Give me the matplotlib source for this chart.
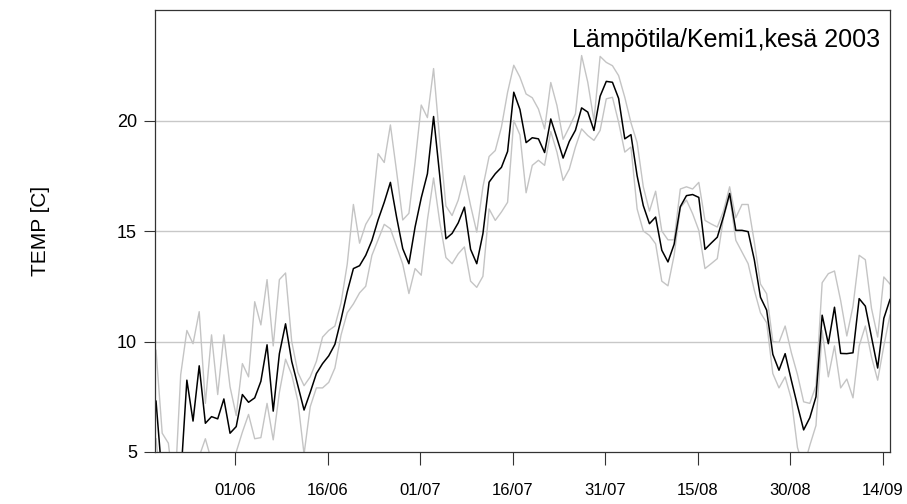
import matplotlib
matplotlib.use("Agg")
import matplotlib.pyplot as plt
import matplotlib.dates as mdates
import pandas as pd

plt.rcParams["font.family"] = ["Liberation Sans", "DejaVu Sans"]

# daily values, Kemi1 summer 2003, first day 19/05
start_day = "2003-05-19 04:00"

temp_mean = [
    7.3, 3.8, 3.5, 3.3, 3.8, 8.25, 6.4, 8.9, 6.3, 6.6,
    6.5, 7.4, 5.85, 6.15, 7.6, 7.25, 7.45, 8.2, 9.85, 6.85,
    9.45, 10.8, 9.1, 8.0, 6.9, 7.7, 8.55, 9.0, 9.35, 9.87,
    11.0, 12.25, 13.3, 13.43, 13.9, 14.57, 15.5, 16.3, 17.2, 15.63,
    14.2, 13.52, 15.18, 16.5, 17.59, 20.18, 17.5, 14.65, 14.89, 15.37,
    16.08, 14.17, 13.52, 14.88, 17.21, 17.59, 17.88, 18.6, 21.28, 20.5,
    19.0, 19.22, 19.17, 18.55, 20.07, 19.2, 18.3, 19.05, 19.56, 20.57,
    20.38, 19.55, 21.1, 21.77, 21.73, 21.0, 19.17, 19.36, 17.5, 16.15,
    15.33, 15.63, 14.13, 13.6, 14.4, 16.1, 16.6, 16.65, 16.52, 14.17,
    14.45, 14.72, 15.65, 16.7, 15.03, 15.03, 14.97, 13.7, 12.0, 11.42,
    9.42, 8.7, 9.45, 8.25, 7.1, 6.0, 6.55, 7.5, 11.19, 9.9,
    11.55, 9.46, 9.45, 9.49, 11.94, 11.6, 10.2, 8.8, 11.05, 11.9,
]

temp_max = [
    9.6, 5.85, 5.4, 3.0, 8.5, 10.5, 9.9, 11.35, 7.2, 10.3,
    7.6, 10.3, 7.95, 6.65, 9.0, 8.4, 11.8, 10.75, 12.8, 9.8,
    12.8, 13.1, 10.0, 8.6, 8.0, 8.4, 9.1, 10.2, 10.5, 10.7,
    11.75, 13.5, 16.2, 14.45, 15.3, 15.77, 18.5, 18.1, 19.8, 17.7,
    15.5, 15.8, 18.1, 20.7, 20.13, 22.35, 19.1, 16.13, 15.7, 16.4,
    17.5, 16.15, 14.95, 17.0, 18.37, 18.64, 19.7, 21.28, 22.5, 21.96,
    21.2, 21.03, 20.52, 19.62, 21.72, 20.68, 19.15, 19.7, 20.3, 22.94,
    21.73, 20.0, 22.9, 22.63, 22.48, 22.03, 21.05, 19.9, 19.0, 17.0,
    15.9, 16.8, 15.0, 14.6, 14.6, 16.9, 17.0, 16.9, 17.2, 15.48,
    15.32, 15.18, 15.9, 17.0, 15.6, 16.2, 16.2, 14.5, 12.6, 12.16,
    10.0, 9.96, 10.7, 9.5, 8.5, 7.27, 7.2, 8.0, 12.66, 13.07,
    13.19, 11.85, 10.25, 11.6, 13.9, 13.7, 11.5, 10.2, 12.92, 12.6,
]

temp_min = [
    5.6, 3.0, 2.5, 2.5, 3.0, 4.5, 4.3, 4.8, 5.6, 4.6,
    4.9, 4.3, 4.0, 5.0, 5.9, 6.7, 5.6, 5.65, 7.2, 5.55,
    7.7, 9.2, 8.5, 7.3, 4.9, 7.05, 7.9, 7.9, 8.15, 8.8,
    10.3, 11.3, 11.7, 12.2, 12.5, 13.9, 14.6, 15.3, 15.1, 14.3,
    13.5, 12.17, 13.3, 13.0, 15.5, 17.4, 15.4, 13.8, 13.52, 13.97,
    14.28, 12.73, 12.45, 12.95, 16.0, 15.48, 15.86, 16.3, 20.0, 19.35,
    16.73, 17.97, 18.2, 17.97, 19.5, 18.57, 17.29, 17.8, 18.8, 19.62,
    19.32, 19.1, 19.55, 20.98, 21.05, 19.92, 18.57, 18.8, 16.0, 15.0,
    14.8, 14.42, 12.73, 12.52, 13.9, 16.05, 16.4, 15.78, 15.03, 13.3,
    13.52, 13.75, 15.6, 16.6, 14.58, 14.05, 13.52, 12.32, 11.3, 10.85,
    8.55, 7.9, 8.4, 7.4, 5.2, 4.3, 5.3, 6.2, 10.5, 8.4,
    9.8, 7.9, 8.3, 7.45, 9.8, 10.7, 9.3, 8.25, 9.8, 11.2,
]

tick_days = ["2003-06-01", "2003-06-16", "2003-07-01", "2003-07-16",
             "2003-07-31", "2003-08-15", "2003-08-30", "2003-09-14"]

dates = pd.date_range(start_day, periods=len(temp_mean), freq="D")

fig = plt.figure(figsize=(9.07, 5.04), dpi=100)
ax = fig.add_axes([155 / 907, 1 - 452 / 504, 735 / 907, 442 / 504])

ax.plot(dates, temp_max, color="#c4c4c4", lw=1.0)
ax.plot(dates, temp_min, color="#c4c4c4", lw=1.0)
ax.plot(dates, temp_mean, color="black", lw=1.1)

ax.set_xlim(pd.Timestamp("2003-05-19 00:00"), pd.Timestamp("2003-09-15 04:00"))
ax.set_ylim(5, 25)
ax.set_yticks([5, 10, 15, 20])
ax.set_xticks(pd.to_datetime(tick_days))
ax.xaxis.set_major_formatter(mdates.DateFormatter("%d/%m"))

for y in [10, 15, 20]:
    ax.axhline(y, color="#c8c8c8", lw=1.0, zorder=0)

for s in ax.spines.values():
    s.set_color("#333333")
    s.set_linewidth(0.9)

ax.tick_params(axis="y", direction="out", length=8, width=0.8,
               color="#333333", labelsize=13, pad=5)
ax.tick_params(axis="x", direction="out", length=9, width=0.8,
               color="#333333", labelsize=12, pad=13)

ax.set_ylabel("TEMP [C]", fontsize=15)
ax.yaxis.set_label_coords(-0.143, 0.5)

ax.text(0.986, 0.932, "Lämpötila/Kemi1,kesä 2003", transform=ax.transAxes,
        ha="right", va="center", fontsize=18)

plt.savefig("out.png", dpi=100)
plt.close()
